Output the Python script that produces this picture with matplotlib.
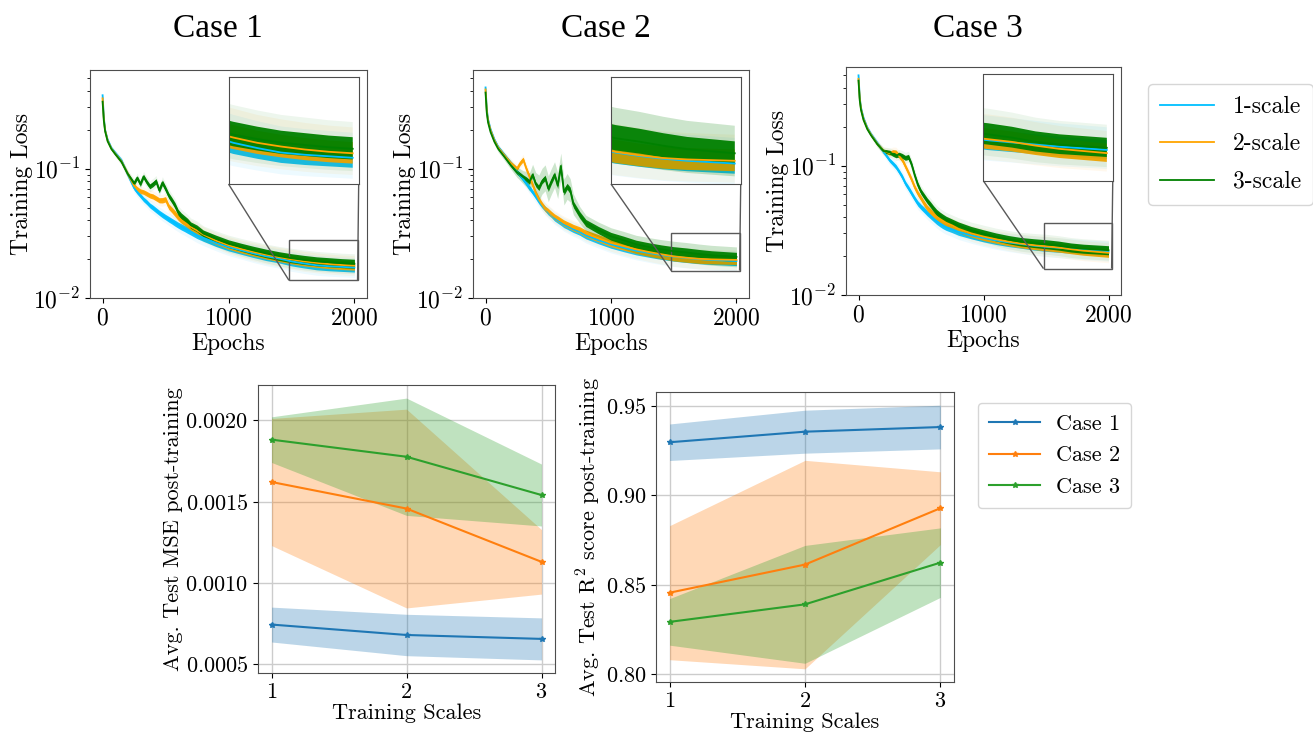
import numpy as np
import matplotlib
matplotlib.use("Agg")
import matplotlib.pyplot as plt
from mpl_toolkits.axes_grid1.inset_locator import mark_inset

plt.rcParams['font.family'] = 'serif'
plt.rcParams['font.serif'] = ['cmr10']
plt.rcParams['mathtext.fontset'] = 'cm'
plt.rcParams['axes.formatter.use_mathtext'] = True
plt.rcParams['axes.unicode_minus'] = False
plt.rcParams['axes.edgecolor'] = '0.3'

# ---------------- training loss curves ----------------
epochs = [0, 10, 20, 40, 70, 100, 150, 200, 250, 275, 300, 325, 350, 375, 400,
          425, 450, 475, 500, 525, 550, 575, 600, 625, 650, 675, 700, 750, 800,
          900, 1000, 1100, 1200, 1300, 1400, 1500, 1600, 1700, 1800, 1900, 2000]

# half width (decades) of the noisy band each curve draws
noise_w = [0.008, 0.008, 0.008, 0.008, 0.008, 0.010, 0.012, 0.014, 0.016, 0.017,
           0.018, 0.018, 0.019, 0.019, 0.020, 0.020, 0.020, 0.021, 0.021, 0.022,
           0.022, 0.023, 0.023, 0.024, 0.024, 0.025, 0.025, 0.026, 0.027, 0.028,
           0.030, 0.031, 0.032, 0.033, 0.034, 0.035, 0.035, 0.035, 0.035, 0.035, 0.035]

# case 1
c1_s1 = [0.37, 0.248, 0.20, 0.168, 0.145, 0.133, 0.116, 0.090, 0.071, 0.066, 0.062,
         0.058, 0.0552, 0.052, 0.0499, 0.0477, 0.0456, 0.0438, 0.0422, 0.0407, 0.0393,
         0.0379, 0.0366, 0.0355, 0.0345, 0.0335, 0.0325, 0.0306, 0.0292, 0.0267, 0.0248,
         0.0234, 0.0221, 0.0210, 0.0202, 0.0192, 0.0185, 0.0179, 0.0176, 0.0174, 0.0172]
c1_s2 = [0.35, 0.24, 0.198, 0.165, 0.143, 0.131, 0.114, 0.091, 0.074, 0.070, 0.067,
         0.066, 0.064, 0.062, 0.061, 0.059, 0.057, 0.057, 0.058, 0.051, 0.048,
         0.045, 0.042, 0.040, 0.0385, 0.037, 0.0355, 0.0333, 0.031, 0.0278, 0.0256,
         0.0240, 0.0227, 0.0216, 0.0207, 0.0199, 0.0192, 0.0187, 0.0183, 0.0180, 0.0178]
c1_s3 = [0.33, 0.235, 0.195, 0.163, 0.142, 0.130, 0.113, 0.091, 0.077, 0.085, 0.076,
         0.087, 0.079, 0.073, 0.076, 0.080, 0.068, 0.078, 0.070, 0.062, 0.057,
         0.052, 0.046, 0.043, 0.041, 0.039, 0.0366, 0.0345, 0.0315, 0.0287, 0.0263,
         0.0247, 0.0233, 0.0221, 0.0211, 0.0203, 0.0197, 0.0192, 0.0189, 0.0186, 0.0184]

# case 2
c2_s1 = [0.425, 0.288, 0.241, 0.202, 0.169, 0.148, 0.128, 0.111, 0.095, 0.089, 0.083,
         0.077, 0.071, 0.066, 0.061, 0.056, 0.052, 0.049, 0.046, 0.044, 0.0415,
         0.040, 0.0385, 0.037, 0.036, 0.035, 0.034, 0.0325, 0.0305, 0.028, 0.026,
         0.0245, 0.0232, 0.0223, 0.0215, 0.0209, 0.0204, 0.0200, 0.0197, 0.0195, 0.0193]
c2_s2 = [0.41, 0.28, 0.236, 0.198, 0.166, 0.146, 0.127, 0.111, 0.100, 0.110, 0.118,
         0.100, 0.087, 0.075, 0.065, 0.058, 0.053, 0.049, 0.047, 0.0445, 0.0425,
         0.041, 0.0395, 0.038, 0.037, 0.036, 0.035, 0.0335, 0.0315, 0.029, 0.0267,
         0.0252, 0.0238, 0.0227, 0.0218, 0.0210, 0.0205, 0.0201, 0.0199, 0.0198, 0.0197]
c2_s3 = [0.388, 0.27, 0.228, 0.192, 0.162, 0.143, 0.124, 0.107, 0.094, 0.090, 0.086,
         0.083, 0.079, 0.090, 0.076, 0.071, 0.080, 0.085, 0.070, 0.080, 0.090,
         0.074, 0.105, 0.066, 0.073, 0.068, 0.053, 0.044, 0.038, 0.0335, 0.030,
         0.028, 0.026, 0.0248, 0.0238, 0.0230, 0.0225, 0.0219, 0.0214, 0.0211, 0.0208]
# wider seed spread (decades) seen around the case 2 / 3-scale curve
c2_s3_sd = [0.02, 0.02, 0.02, 0.02, 0.02, 0.025, 0.028, 0.032, 0.04, 0.045, 0.05,
            0.06, 0.07, 0.08, 0.09, 0.10, 0.10, 0.10, 0.10, 0.10, 0.10,
            0.10, 0.10, 0.10, 0.10, 0.09, 0.08, 0.065, 0.06, 0.062, 0.066,
            0.068, 0.07, 0.073, 0.075, 0.077, 0.077, 0.077, 0.077, 0.077, 0.077]

# case 3
c3_s1 = [0.50, 0.337, 0.281, 0.235, 0.198, 0.176, 0.150, 0.128, 0.110, 0.104, 0.098,
         0.090, 0.082, 0.073, 0.067, 0.061, 0.0555, 0.051, 0.048, 0.0455, 0.043,
         0.041, 0.039, 0.0372, 0.0357, 0.0345, 0.0335, 0.0322, 0.0308, 0.0290, 0.0276,
         0.0264, 0.0255, 0.0248, 0.0241, 0.0236, 0.0232, 0.0228, 0.0224, 0.0221, 0.0218]
c3_s2 = [0.47, 0.33, 0.275, 0.230, 0.195, 0.174, 0.148, 0.130, 0.125, 0.128, 0.127,
         0.119, 0.111, 0.099, 0.088, 0.078, 0.068, 0.061, 0.056, 0.051, 0.047,
         0.0445, 0.042, 0.0403, 0.0388, 0.0375, 0.0362, 0.0345, 0.0325, 0.0300, 0.0283,
         0.0270, 0.0259, 0.0250, 0.0243, 0.0238, 0.0233, 0.0226, 0.0220, 0.0216, 0.0212]
c3_s3 = [0.455, 0.32, 0.27, 0.226, 0.192, 0.172, 0.147, 0.130, 0.127, 0.123, 0.120,
         0.122, 0.119, 0.115, 0.117, 0.102, 0.084, 0.071, 0.063, 0.058, 0.0535,
         0.050, 0.0465, 0.0435, 0.0415, 0.0398, 0.0384, 0.0364, 0.0345, 0.0318, 0.0298,
         0.0281, 0.0268, 0.0258, 0.0252, 0.0247, 0.0241, 0.0233, 0.0228, 0.0225, 0.0222]

scale_labels = ['1-scale', '2-scale', '3-scale']
scale_colors = ['deepskyblue', 'orange', 'green']
case_titles = ['Case 1', 'Case 2', 'Case 3']
inset_xlim = (1480, 2025)
inset_ylims = [(0.0137, 0.028), (0.0163, 0.032), (0.016, 0.036)]

# ---------------- post-training test metrics ----------------
scales = [1, 2, 3]
mse_c1 = [0.000745, 0.000681, 0.000657]
mse_c1_sd = [0.000107, 0.000127, 0.000129]
mse_c2 = [0.00162, 0.001457, 0.00113]
mse_c2_sd = [0.00039, 0.00061, 0.000198]
mse_c3 = [0.00188, 0.001775, 0.00154]
mse_c3_sd = [0.00014, 0.00036, 0.00019]

r2_c1 = [0.9295, 0.9354, 0.9380]
r2_c1_sd = [0.0102, 0.0120, 0.0122]
r2_c2 = [0.8455, 0.8612, 0.8927]
r2_c2_sd = [0.0374, 0.0582, 0.0203]
r2_c3 = [0.8292, 0.8390, 0.8623]
r2_c3_sd = [0.0130, 0.0329, 0.0194]

case_colors = ['tab:blue', 'tab:orange', 'tab:green']

# ==========================================
W, H = 1313, 733
fig = plt.figure(figsize=(W / 100, H / 100), dpi=100)

def px_axes(x0, y0, x1, y1):
    # pixel box (left, top, right, bottom) -> figure axes
    return fig.add_axes([x0 / W, 1 - y1 / H, (x1 - x0) / W, (y1 - y0) / H])

top_boxes = [(90, 70, 367, 298), (473, 70, 749, 298), (846, 67, 1121, 295)]
title_x = [218, 606, 978]
cases = [[c1_s1, c1_s2, c1_s3], [c2_s1, c2_s2, c2_s3], [c3_s1, c3_s2, c3_s3]]
ep = np.array(epochs)
nw = np.array(noise_w)

def draw_curves(ax, curves, ci):
    lines = []
    for si, (vals, col) in enumerate(zip(curves, scale_colors)):
        v = np.array(vals)
        if ci == 1 and si == 2:
            sd, a = np.array(c2_s3_sd), 0.2
        else:
            sd, a = 2.2 * nw, 0.07
        ax.fill_between(ep, v / 10**sd, v * 10**sd, color=col, alpha=a, lw=0)
        ax.fill_between(ep, v / 10**nw, v * 10**nw, color=col, alpha=0.95, lw=0)
        ln, = ax.plot(ep, v, color=col, lw=1.3)
        lines.append(ln)
    return lines

for ci, (box, curves) in enumerate(zip(top_boxes, cases)):
    ax = px_axes(*box)
    handles = draw_curves(ax, curves, ci)
    ax.set_yscale('log')
    ax.set_ylim(0.01, 0.58)
    ax.set_xticks([0, 1000, 2000])
    ax.set_xlabel('Epochs', fontsize=17, labelpad=2)
    ax.set_ylabel('Training Loss', fontsize=17, labelpad=0)
    ax.tick_params(labelsize=17)
    fig.text(title_x[ci] / W, 1 - 37 / H, case_titles[ci], family='Liberation Serif',
             fontsize=24, ha='center', va='baseline')

    axin = ax.inset_axes([0.5, 0.5, 0.47, 0.47])
    draw_curves(axin, curves, ci)
    axin.set_xlim(*inset_xlim)
    axin.set_ylim(*inset_ylims[ci])
    axin.set_xticks([])
    axin.set_yticks([])
    axin.minorticks_off()
    mark_inset(ax, axin, loc1=3, loc2=4, fc='none', ec='0.35', lw=1)
    if ci == 0:
        top_handles = handles

fig.legend(top_handles, scale_labels, loc='upper left', bbox_to_anchor=(1148 / W, 1 - 84 / H),
           borderaxespad=0, fontsize=17, handlelength=2.3, handletextpad=0.8,
           borderpad=0.5, labelspacing=0.65)

# ---------------- bottom row ----------------
def metric_panel(ax, means, sds, ylabel):
    hs = []
    for i, (m, s, col) in enumerate(zip(means, sds, case_colors)):
        m = np.array(m)
        s = np.array(s)
        ax.fill_between(scales, m - s, m + s, color=col, alpha=0.3, lw=0)
        h, = ax.plot(scales, m, color=col, marker='*', ms=4, lw=1.5, label=case_titles[i])
        hs.append(h)
    ax.set_xticks(scales)
    ax.grid(True, color='0.8', lw=1)
    ax.set_axisbelow(True)
    ax.set_xlabel('Training Scales', fontsize=16, labelpad=1)
    ax.set_ylabel(ylabel, fontsize=16, labelpad=2)
    ax.tick_params(labelsize=16)
    return hs

axm = px_axes(258, 385, 555, 673)
metric_panel(axm, [mse_c1, mse_c2, mse_c3], [mse_c1_sd, mse_c2_sd, mse_c3_sd],
             'Avg. Test MSE post-training')
axr = px_axes(656, 392, 954, 682)
hs = metric_panel(axr, [r2_c1, r2_c2, r2_c3], [r2_c1_sd, r2_c2_sd, r2_c3_sd],
                  'Avg. Test R$^2$ score post-training')
axr.set_yticks([0.80, 0.85, 0.90, 0.95])

fig.legend(hs, case_titles, loc='upper left', bbox_to_anchor=(978 / W, 1 - 403 / H),
           borderaxespad=0, fontsize=16, handlelength=2.3, handletextpad=0.7,
           borderpad=0.5, labelspacing=0.55)

fig.savefig('out.png', dpi=100)
